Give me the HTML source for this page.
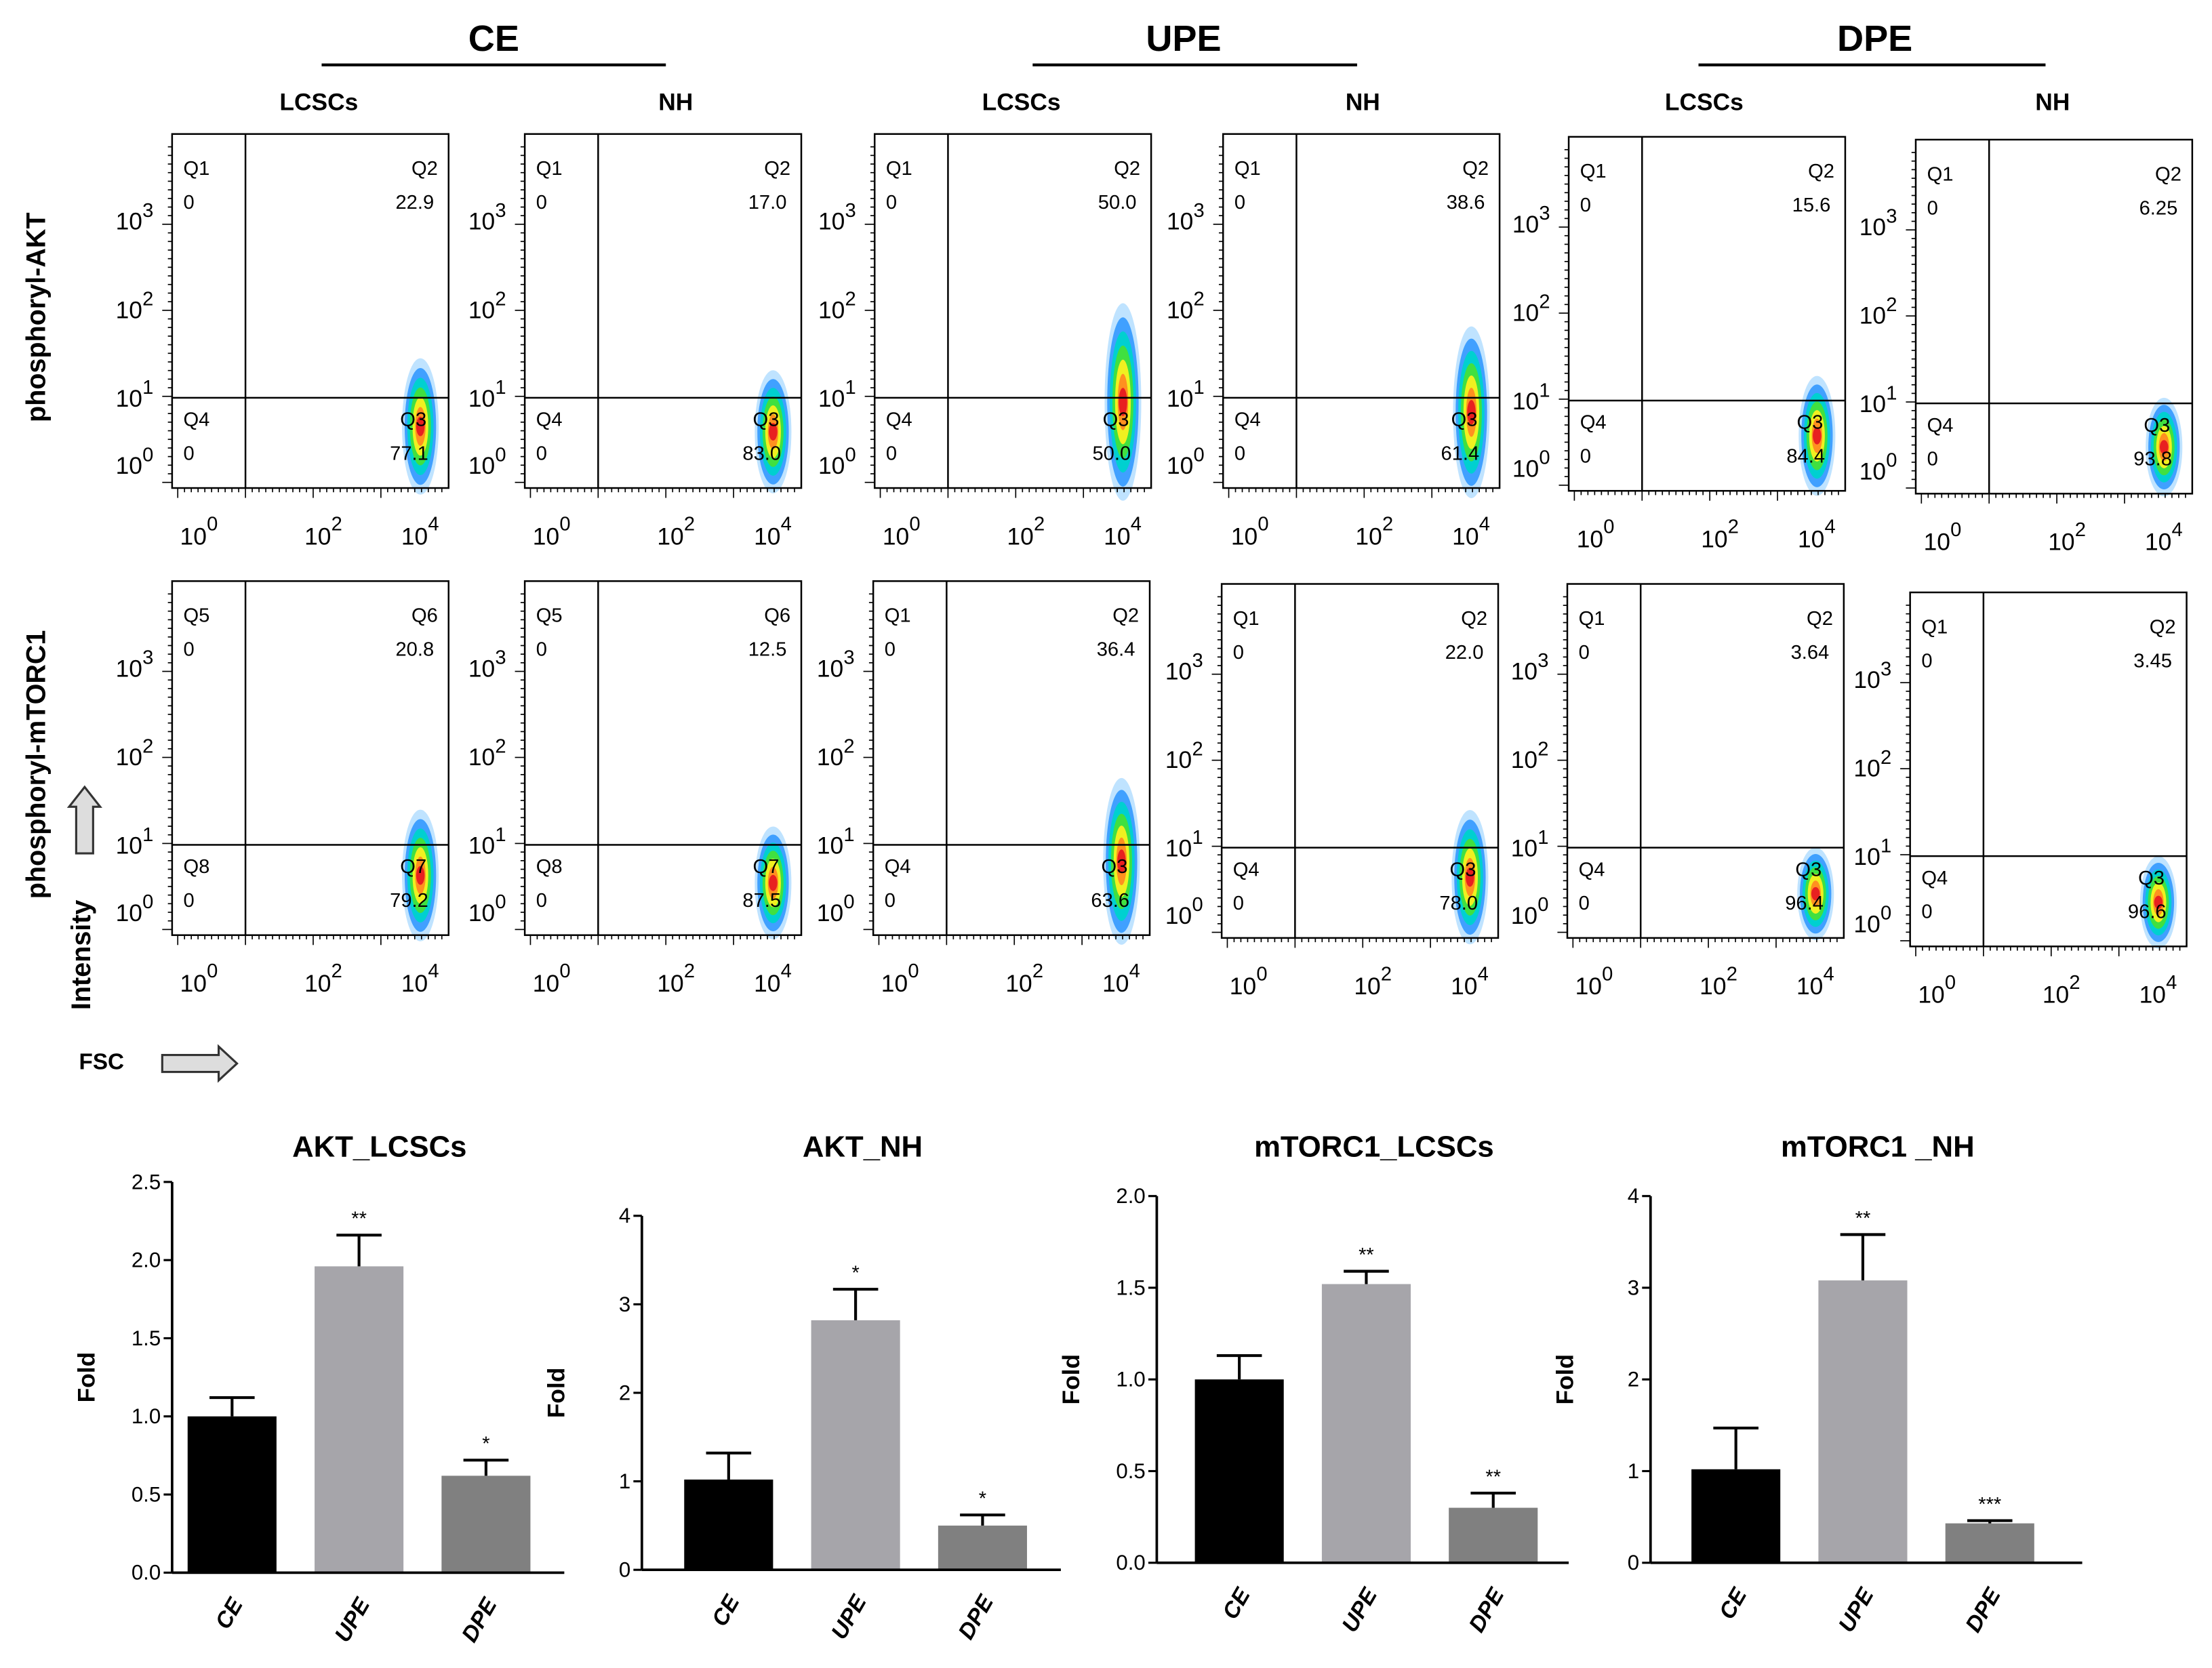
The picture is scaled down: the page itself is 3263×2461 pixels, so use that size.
<!DOCTYPE html>
<html><head><meta charset="utf-8">
<style>
html,body{margin:0;padding:0;background:#fff;}
svg{display:block;font-family:"Liberation Sans",sans-serif;}
.n{font-family:"Liberation Sans Narrow","Liberation Sans",sans-serif;}
</style></head>
<body>
<svg id="fig" width="3263" height="2461" viewBox="0 0 1568 1182.6" xmlns="http://www.w3.org/2000/svg">
<g font-weight="bold">
<text x="350" y="36" font-size="26" text-anchor="middle">CE</text>
<line x1="228" y1="46" x2="472" y2="46" stroke="#000" stroke-width="2"/>
<text x="839" y="36" font-size="26" text-anchor="middle">UPE</text>
<line x1="732" y1="46" x2="962" y2="46" stroke="#000" stroke-width="2"/>
<text x="1329" y="36" font-size="26" text-anchor="middle">DPE</text>
<line x1="1204" y1="46" x2="1450" y2="46" stroke="#000" stroke-width="2"/>
<text x="226" y="78" font-size="17" text-anchor="middle">LCSCs</text>
<text x="479" y="78" font-size="17" text-anchor="middle">NH</text>
<text x="724" y="78" font-size="17" text-anchor="middle">LCSCs</text>
<text x="966" y="78" font-size="17" text-anchor="middle">NH</text>
<text x="1208" y="78" font-size="17" text-anchor="middle">LCSCs</text>
<text x="1455" y="78" font-size="17" text-anchor="middle">NH</text>
</g>
<g font-weight="bold" font-size="19">
<text transform="translate(32,225) rotate(-90)" text-anchor="middle">phosphoryl-AKT</text>
<text transform="translate(32,542) rotate(-90)" text-anchor="middle">phosphoryl-mTORC1</text>
<text transform="translate(64,677) rotate(-90)" text-anchor="middle">Intensity</text>
<text x="56" y="758" font-size="16">FSC</text>
</g>
<path d="M54,605 L54,572 L49,572 L60,558 L71,572 L66,572 L66,605 Z" fill="#ddd" stroke="#333" stroke-width="1.5"/>
<path d="M115,748 L155,748 L155,742 L168,754 L155,766 L155,760 L115,760 Z" fill="#ddd" stroke="#333" stroke-width="1.5"/>
<g id="flow"></g>
<g id="bars"></g>
</svg>
<script>
const NS="http://www.w3.org/2000/svg";
function mk(tag,attrs,parent,txt){const e=document.createElementNS(NS,tag);for(const k in attrs)e.setAttribute(k,attrs[k]);if(txt!==undefined)e.textContent=txt;parent.appendChild(e);return e;}

// Flow plot data
const flowUpperLabels=[["Q1","Q2"],["Q1","Q2"],["Q1","Q2"],["Q1","Q2"],["Q1","Q2"],["Q1","Q2"],
["Q5","Q6"],["Q5","Q6"],["Q1","Q2"],["Q1","Q2"],["Q1","Q2"],["Q1","Q2"]];
const flowLowerLabels=[["Q4","Q3"],["Q4","Q3"],["Q4","Q3"],["Q4","Q3"],["Q4","Q3"],["Q4","Q3"],
["Q8","Q7"],["Q8","Q7"],["Q4","Q3"],["Q4","Q3"],["Q4","Q3"],["Q4","Q3"]];
const flowUpperValues=["22.9","17.0","50.0","38.6","15.6","6.25","20.8","12.5","36.4","22.0","3.64","3.45"];
const flowLowerValues=["77.1","83.0","50.0","61.4","84.4","93.8","79.2","87.5","63.6","78.0","96.4","96.6"];
const boxes=[[122,95],[372,95],[620,95],[867,95],[1112,97],[1358,99],[122,412],[372,412],[619,412],[866,414],[1111,414],[1354,420]];

const flow=document.getElementById('flow');
boxes.forEach((b,i)=>{
  const [x,y]=b,w=196,h=251;
  const g=mk('g',{},flow);
  
  
  const up=parseFloat(flowUpperValues[i]);
  const hy=y+h*0.745;
  const bx=x+w-18;
  const ext=Math.min(up*1.6,90);
  const cols=["#bfe3ff","#40a0ff","#00d0d0","#40e040","#f0f020","#ff9020","#e82020"];
  const th=ext+60;
  cols.forEach((c,k)=>{
    const f=1-k/cols.length;
    mk('ellipse',{cx:bx-2,cy:hy+35-ext*0.4,rx:Math.max(3,13*f),ry:Math.max(4,th*0.5*f),fill:c},g);
  });
  mk('rect',{x:x,y:y,width:w,height:h,fill:"none",stroke:"#000","stroke-width":1.2},g);
  mk('line',{x1:x+52,y1:y,x2:x+52,y2:y+h,stroke:"#000","stroke-width":1.2},g);
  mk('line',{x1:x,y1:hy,x2:x+w,y2:hy,stroke:"#000","stroke-width":1.2},g);
  for(let t=0;t<40;t++){const tx=x+4+t*4.8;mk('line',{x1:tx,y1:y+h,x2:tx,y2:y+h+(t%10==0?7:3),stroke:"#000","stroke-width":0.8},g);}
  for(let t=0;t<40;t++){const ty=y+h-4-t*6.1;mk('line',{x1:x,y1:ty,x2:x-(t%10==0?7:3),y2:ty,stroke:"#000","stroke-width":0.8},g);}
  const tf={"font-size":17,class:"n"};
  const yl=[["3",0.27],["2",0.52],["1",0.77],["0",0.96]];
  yl.forEach(([e,f])=>{mk('text',Object.assign({x:x-40,y:y+h*f},tf),g,"10");mk('text',{x:x-21,y:y+h*f-9,"font-size":14,class:"n"},g,e);});
  [["0",0.1],["2",0.55],["4",0.9]].forEach(([e,f])=>{mk('text',Object.assign({x:x+w*f-14,y:y+h+40},tf),g,"10");mk('text',{x:x+w*f+5,y:y+h+30,"font-size":14,class:"n"},g,e);});
  const q={"font-size":14,class:"n"};
  mk('text',Object.assign({x:x+8,y:y+29},q),g,flowUpperLabels[i][0]);
  mk('text',Object.assign({x:x+8,y:y+53},q),g,"0");
  mk('text',Object.assign({x:x+w-17,y:y+29,"text-anchor":"middle"},q),g,flowUpperLabels[i][1]);
  mk('text',Object.assign({x:x+w-24,y:y+53,"text-anchor":"middle"},q),g,flowUpperValues[i]);
  mk('text',Object.assign({x:x+8,y:hy+20},q),g,flowLowerLabels[i][0]);
  mk('text',Object.assign({x:x+8,y:hy+44},q),g,"0");
  mk('text',Object.assign({x:x+w-25,y:hy+20,"text-anchor":"middle"},q),g,flowLowerLabels[i][1]);
  mk('text',Object.assign({x:x+w-28,y:hy+44,"text-anchor":"middle"},q),g,flowLowerValues[i]);
});

// Bar chart data
const categories=["CE","UPE","DPE"];
const chartTitles=["AKT_LCSCs","AKT_NH","mTORC1_LCSCs","mTORC1 _NH"];
const aktLcscsValues=[1.0,1.96,0.62];
const aktLcscsErrors=[0.12,0.2,0.1];
const aktNhValues=[1.02,2.82,0.5];
const aktNhErrors=[0.3,0.35,0.12];
const mtorLcscsValues=[1.0,1.52,0.3];
const mtorLcscsErrors=[0.13,0.07,0.08];
const mtorNhValues=[1.02,3.08,0.43];
const mtorNhErrors=[0.45,0.5,0.03];
const stars=[["","**","*"],["","*","*"],["","**","**"],["","**","***"]];
const tickSets=[["0.0","0.5","1.0","1.5","2.0","2.5"],["0","1","2","3","4"],["0.0","0.5","1.0","1.5","2.0"],["0","1","2","3","4"]];
const yMaxes=[2.5,4,2.0,4];
const valueSets=[aktLcscsValues,aktNhValues,mtorLcscsValues,mtorNhValues];
const errorSets=[aktLcscsErrors,aktNhErrors,mtorLcscsErrors,mtorNhErrors];
const layouts=[{ax:122,top:838,bot:1115,x0:133,end:400},{ax:455,top:862,bot:1113,x0:485,end:752},{ax:820,top:848,bot:1108,x0:847,end:1112},{ax:1170,top:848,bot:1108,x0:1199,end:1476}];
const barColors=["#000000","#a6a5aa","#808080"];
const bars=document.getElementById('bars');
layouts.forEach((L,c)=>{
  const g=mk('g',{},bars);
  
  
  const ys=v=>L.bot-(v/yMaxes[c])*(L.bot-L.top);
  const xs=i=>L.x0+i*90;
  mk('text',{x:(L.ax+L.end)/2+8,y:820,"text-anchor":"middle","font-size":21,"font-weight":"bold",class:"n"},g,chartTitles[c]);
  mk('text',{transform:`translate(${L.ax-55},${(L.top+L.bot)/2}) rotate(-90)`,"text-anchor":"middle","font-size":17,"font-weight":"bold"},g,"Fold");
  tickSets[c].forEach(t=>{const v=parseFloat(t);const y=ys(v);
    mk('line',{x1:L.ax-6,y1:y,x2:L.ax,y2:y,stroke:"#000","stroke-width":1.5},g);
    mk('text',{x:L.ax-8,y:y+5,"text-anchor":"end","font-size":15,class:"n"},g,t);});
  valueSets[c].forEach((v,i)=>{
    const x=xs(i),w=63,e=errorSets[c][i];
    const r=mk('rect',{x:x,y:ys(v),width:w,height:L.bot-ys(v),fill:barColors[i]},g);
    
    
    mk('line',{x1:x+w/2,y1:ys(v),x2:x+w/2,y2:ys(v+e),stroke:"#000","stroke-width":2},g);
    mk('line',{x1:x+w/2-16,y1:ys(v+e),x2:x+w/2+16,y2:ys(v+e),stroke:"#000","stroke-width":2},g);
    if(stars[c][i])mk('text',{x:x+w/2,y:ys(v+e)-7,"text-anchor":"middle","font-size":14},g,stars[c][i]);
    mk('text',{transform:`translate(${x+w/2+8},${L.bot+22}) rotate(-60)`,"text-anchor":"end","font-size":16,"font-style":"italic","font-weight":"bold"},g,categories[i]);
  });
  mk('line',{x1:L.ax,y1:L.top,x2:L.ax,y2:L.bot,stroke:"#000","stroke-width":1.8},g);
  mk('line',{x1:L.ax,y1:L.bot,x2:L.end,y2:L.bot,stroke:"#000","stroke-width":1.8},g);
});
</script>
</body></html>
